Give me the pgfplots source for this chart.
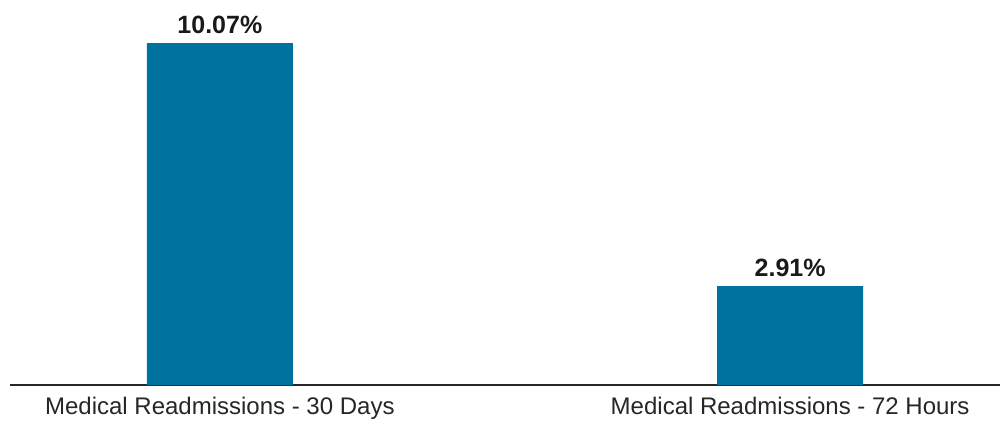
\documentclass[border=0pt]{standalone}
\usepackage{pgfplots}
\pgfplotsset{compat=1.18}
\usepackage{fontspec}
\setmainfont{Liberation Sans}
\definecolor{barblue}{RGB}{0,114,160}
\definecolor{axisgray}{RGB}{40,40,40}
\begin{document}
\begin{tikzpicture}
\begin{axis}[
  scale only axis,
  width=495pt, height=192.5pt,
  xmin=-0.368, xmax=1.368,
  ymin=0, ymax=11.34,
  axis x line=bottom,
  axis y line=none,
  x axis line style={-, draw=axisgray, line width=0.8pt},
  xtick={0,1},
  xticklabels={Medical Readmissions - 30 Days, Medical Readmissions - 72 Hours},
  major tick length=0pt,
  xticklabel style={font=\fontsize{12}{14}\selectfont, text=black!85, yshift=-2.5pt},
  ybar, bar width=73pt,
  nodes near coords={\pgfmathprintnumber[fixed,fixed zerofill,precision=2,assume math mode=true]{\pgfplotspointmeta}\%},
  nodes near coords style={font=\bfseries\fontsize{12.5}{14}\selectfont, text=black!90, yshift=1pt},
  clip=false,
]
\addplot[fill=barblue, draw=none] coordinates {(0,10.07) (1,2.91)};
\end{axis}
\pgfresetboundingbox
\path (-5pt,-17.5pt) rectangle (495pt,192.5pt);
\end{tikzpicture}
\end{document}
